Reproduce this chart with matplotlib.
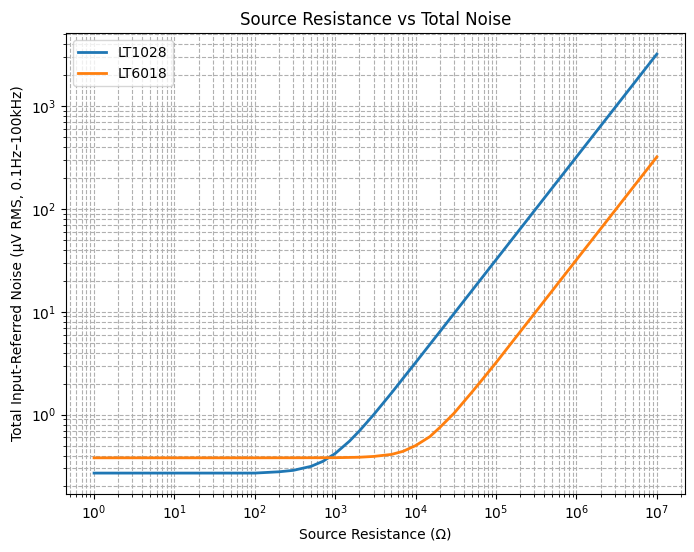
import numpy as np
import matplotlib.pyplot as plt

# source resistance (ohm)
r_lt1028 = [1, 10, 100, 200, 300, 500, 700, 1e3, 1.5e3, 2e3, 3e3, 5e3, 7e3,
            1e4, 2e4, 3e4, 5e4, 7e4, 1e5, 1e6, 1e7]
noise_lt1028 = [0.27, 0.27, 0.27, 0.278, 0.287, 0.314, 0.351, 0.419, 0.551,
                0.695, 0.997, 1.62, 2.26, 3.21, 6.4, 9.6, 16, 22.4, 32, 320, 3200]

r_lt6018 = [1, 10, 100, 1e3, 2e3, 3e3, 5e3, 7e3, 1e4, 1.5e4, 2e4, 3e4, 5e4,
            7e4, 1e5, 2e5, 1e6, 1e7]
noise_lt6018 = [0.38, 0.38, 0.38, 0.381, 0.385, 0.392, 0.41, 0.44, 0.50, 0.61,
                0.75, 1.03, 1.65, 2.27, 3.2, 6.4, 32, 320]

fig = plt.figure(figsize=(6.94, 5.52), dpi=100)
ax = fig.add_subplot(111)
fig.subplots_adjust(left=0.095, right=0.987, top=0.94, bottom=0.105)

ax.loglog(r_lt1028, noise_lt1028, lw=2, label='LT1028')
ax.loglog(r_lt6018, noise_lt6018, lw=2, label='LT6018')

ax.set_xlabel('Source Resistance (Ω)')
ax.set_ylabel('Total Input-Referred Noise (µV RMS, 0.1Hz–100kHz)')
ax.set_title('Source Resistance vs Total Noise')
ax.grid(True, which='both', ls='--')
ax.legend(loc='upper left')

plt.savefig('out.png', dpi=100)
